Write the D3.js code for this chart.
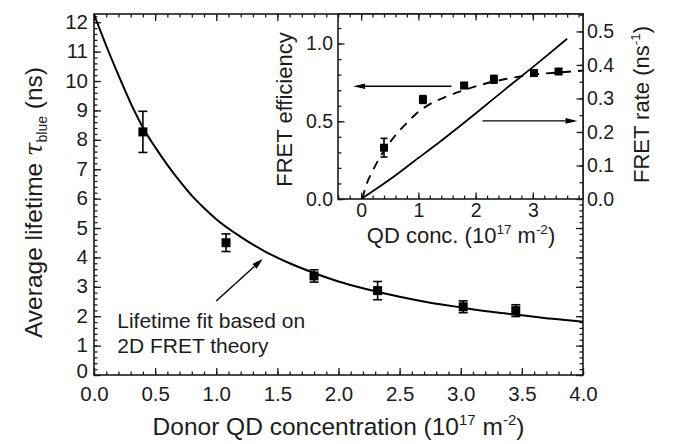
<!DOCTYPE html>
<html><head><meta charset="utf-8">
<script src="https://cdn.jsdelivr.net/npm/d3@7"></script>
<style>
body{margin:0;background:#fff}
text{font-family:"Liberation Sans",Arial,Helvetica,sans-serif;fill:#1c1c1c}
</style>
</head><body><svg id="c" width="675" height="444"></svg>
<script>
// ---------- data ----------
const concentration = [0.40, 1.08, 1.80, 2.32, 3.02, 3.45];
const lifetime      = [8.27, 4.50, 3.37, 2.87, 2.32, 2.19];
const lifetimeErr   = [0.70, 0.30, 0.21, 0.31, 0.20, 0.20];

const fitX        = [0, 0.1, 0.2, 0.3, 0.4, 0.5, 0.6, 0.7, 0.8, 0.9, 1.0, 1.2, 1.4, 1.6, 1.8, 2.0, 2.25, 2.5, 2.75, 3.0, 3.25, 3.5, 3.75, 4.0];
const fitLifetime = [12.27, 11.2, 10.2, 9.25, 8.42, 7.75, 7.15, 6.6, 6.1, 5.68, 5.3, 4.7, 4.2, 3.8, 3.47, 3.18, 2.9, 2.66, 2.46, 2.3, 2.15, 2.03, 1.91, 1.81];

const efficiency    = [0.33, 0.64, 0.73, 0.77, 0.81, 0.82];
const efficiencyErr = [0.06, 0.025, 0.012, 0.025, 0.012, 0.012];

const effFitX = [0.02, 0.1, 0.2, 0.3, 0.4, 0.6, 0.8, 1.0, 1.2, 1.5, 1.8, 2.1, 2.5, 3.0, 3.5, 3.88];
const effFit  = [0.0, 0.1, 0.18, 0.25, 0.31, 0.41, 0.49, 0.56, 0.61, 0.66, 0.70, 0.735, 0.77, 0.80, 0.815, 0.826];

const rateFitX = [0, 0.5, 0.92, 1.44, 2.0, 2.5, 3.14, 3.6];
const rateFit  = [0, 0.058, 0.112, 0.179, 0.255, 0.325, 0.413, 0.478];

const mainXTicks = [0, 0.5, 1.0, 1.5, 2.0, 2.5, 3.0, 3.5, 4.0];
const mainYTicks = [0, 1, 2, 3, 4, 5, 6, 7, 8, 9, 10, 11, 12];
const insetXTicks = [0, 1, 2, 3];
const insetYLTicks = [0, 0.5, 1.0];
const insetYRTicks = [0, 0.1, 0.2, 0.3, 0.4, 0.5];

const annotationLines = ["Lifetime fit based on", "2D FRET theory"];

// ---------- layout ----------
const M = {l: 94, r: 583, t: 14, b: 375};
const I = {l: 338, r: 583, t: 14, b: 199};
const svg = d3.select("#c");
const ink = "#1c1c1c";

const x = d3.scaleLinear().domain([0, 4]).range([M.l, M.r]);
const y = d3.scaleLinear().domain([0, 12.28]).range([M.b, M.t]);
const xi = d3.scaleLinear().domain([-0.404, 3.877]).range([I.l, I.r]);
const yl = d3.scaleLinear().domain([0, 1.19]).range([I.b, I.t]);
const yr = d3.scaleLinear().domain([0, 0.552]).range([I.b, I.t]);

const range = (a, b, s) => d3.range(Math.round((b - a) / s) + 1).map(i => +(a + i * s).toFixed(4));

function axisG(axis, tx, ty, fs) {
  const g = svg.append("g").attr("transform", `translate(${tx},${ty})`).call(axis);
  g.select(".domain").remove();
  g.selectAll("line").attr("stroke", ink).attr("stroke-width", 1.3);
  g.selectAll("text").attr("font-size", fs).attr("fill", ink)
    .style("font-family", '"Liberation Sans",Arial,sans-serif');
  return g;
}

// ---------- main plot ----------
const mainMinorX = range(0, 4, 0.1);
const mainMinorY = range(0, 12.2, 0.2);

axisG(d3.axisBottom(x).tickValues(mainMinorX).tickSize(-3.5).tickFormat(""), 0, M.b, 0);
axisG(d3.axisBottom(x).tickValues(mainXTicks).tickSize(-7).tickPadding(11.5).tickFormat(d3.format(".1f")), 0, M.b, 20.5);
axisG(d3.axisTop(x).tickValues(mainMinorX.filter(v => x(v) < I.l - 1)).tickSize(-3.5).tickFormat(""), 0, M.t, 0);
axisG(d3.axisTop(x).tickValues(mainXTicks.filter(v => x(v) < I.l - 1)).tickSize(-7).tickFormat(""), 0, M.t, 0);
axisG(d3.axisLeft(y).tickValues(mainMinorY).tickSize(-3.5).tickFormat(""), M.l, 0, 0);
const yAxisG = axisG(d3.axisLeft(y).tickValues(mainYTicks).tickSize(-7).tickPadding(6).tickFormat(d3.format("d")), M.l, 0, 20.5);
yAxisG.selectAll("text").attr("dy", d => d === 0 ? "0.1em" : "0.3em");
axisG(d3.axisRight(y).tickValues(mainMinorY.filter(v => y(v) > I.b + 1)).tickSize(-3.5).tickFormat(""), M.r, 0, 0);
axisG(d3.axisRight(y).tickValues(mainYTicks.filter(v => y(v) > I.b + 1)).tickSize(-7).tickFormat(""), M.r, 0, 0);

svg.append("rect").attr("x", M.l).attr("y", M.t).attr("width", M.r - M.l).attr("height", M.b - M.t)
  .attr("fill", "none").attr("stroke", ink).attr("stroke-width", 1.6);

svg.append("defs").append("clipPath").attr("id", "mclip").append("rect")
  .attr("x", M.l).attr("y", M.t).attr("width", M.r - M.l).attr("height", M.b - M.t);

const fitData = fitX.map((v, i) => [v, fitLifetime[i]]);
svg.append("path").datum(fitData).attr("clip-path", "url(#mclip)")
  .attr("d", d3.line().x(d => x(d[0])).y(d => y(d[1])).curve(d3.curveMonotoneX))
  .attr("fill", "none").attr("stroke", "#000").attr("stroke-width", 2);

const mainPts = concentration.map((c, i) => ({c, v: lifetime[i], e: lifetimeErr[i]}));
const mg = svg.append("g");
mainPts.forEach(p => {
  const cx = x(p.c);
  mg.append("line").attr("x1", cx).attr("x2", cx).attr("y1", y(p.v - p.e)).attr("y2", y(p.v + p.e))
    .attr("stroke", "#000").attr("stroke-width", 1.6);
  [p.v - p.e, p.v + p.e].forEach(v => mg.append("line").attr("x1", cx - 4.5).attr("x2", cx + 4.5)
    .attr("y1", y(v)).attr("y2", y(v)).attr("stroke", "#000").attr("stroke-width", 1.6));
  mg.append("rect").attr("x", cx - 4.5).attr("y", y(p.v) - 4.5).attr("width", 9).attr("height", 9).attr("fill", "#000");
});

// arrow helper
function arrow(x1, y1, x2, y2, len, half) {
  const a = Math.atan2(y2 - y1, x2 - x1);
  const bx = x2 - len * Math.cos(a), by = y2 - len * Math.sin(a);
  svg.append("line").attr("x1", x1).attr("y1", y1).attr("x2", bx).attr("y2", by)
    .attr("stroke", "#000").attr("stroke-width", 1.4);
  const px = -Math.sin(a) * half, py = Math.cos(a) * half;
  svg.append("path").attr("d", `M${x2},${y2}L${bx + px},${by + py}L${bx - px},${by - py}Z`).attr("fill", "#000");
}
// annotation arrow in main-plot data units
const mainArrow = {from: [1.0, 2.52], to: [1.38, 3.95]};
arrow(x(mainArrow.from[0]), y(mainArrow.from[1]), x(mainArrow.to[0]), y(mainArrow.to[1]), 11, 3.2);

const ann = svg.append("text").attr("x", x(0.19)).attr("y", y(1.61)).attr("font-size", 21);
annotationLines.forEach((t, i) => ann.append("tspan").attr("x", x(0.19)).attr("dy", i ? 25 : 0).text(t));

// axis titles (main)
const xt = svg.append("text").attr("x", (M.l + M.r) / 2).attr("y", 435).attr("text-anchor", "middle").attr("font-size", 24.5);
xt.append("tspan").text("Donor QD concentration (10");
xt.append("tspan").attr("font-size", 15).attr("dy", -10).text("17");
xt.append("tspan").attr("dy", 10).text(" m");
xt.append("tspan").attr("font-size", 15).attr("dy", -10).text("-2");
xt.append("tspan").attr("dy", 10).text(")");

const yt = svg.append("text").attr("transform", `translate(42,${(M.t + M.b) / 2 + 8}) rotate(-90)`)
  .attr("text-anchor", "middle").attr("font-size", 24.5);
yt.append("tspan").text("Average lifetime ");
yt.append("tspan").attr("font-style", "italic").attr("font-family", '"DejaVu Serif",serif').text("τ");
yt.append("tspan").attr("font-size", 14).attr("dy", 5).text("blue");
yt.append("tspan").attr("dy", -5).text(" (ns)");

// ---------- inset ----------
svg.append("rect").attr("x", I.l).attr("y", I.t).attr("width", I.r - I.l).attr("height", I.b - I.t)
  .attr("fill", "#fff");

const inMinorX = range(-0.4, 3.8, 0.2);
const inMinorYL = range(0, 1.1, 0.1);
const inMinorYR = range(0, 0.55, 0.05);

axisG(d3.axisBottom(xi).tickValues(inMinorX).tickSize(-3.5).tickFormat(""), 0, I.b, 0);
axisG(d3.axisBottom(xi).tickValues(insetXTicks).tickSize(-6.5).tickPadding(4).tickFormat(d3.format("d")), 0, I.b, 19.5);
axisG(d3.axisTop(xi).tickValues(inMinorX).tickSize(-3.5).tickFormat(""), 0, I.t, 0);
axisG(d3.axisTop(xi).tickValues(insetXTicks).tickSize(-6.5).tickFormat(""), 0, I.t, 0);
axisG(d3.axisLeft(yl).tickValues(inMinorYL).tickSize(-3.5).tickFormat(""), I.l, 0, 0);
axisG(d3.axisLeft(yl).tickValues(insetYLTicks).tickSize(-6.5).tickPadding(5).tickFormat(d3.format(".1f")), I.l, 0, 19.5);
axisG(d3.axisRight(yr).tickValues(inMinorYR).tickSize(-3.5).tickFormat(""), I.r, 0, 0);
axisG(d3.axisRight(yr).tickValues(insetYRTicks).tickSize(-6.5).tickPadding(4).tickFormat(d3.format(".1f")), I.r, 0, 19.5);

svg.append("rect").attr("x", I.l).attr("y", I.t).attr("width", I.r - I.l).attr("height", I.b - I.t)
  .attr("fill", "none").attr("stroke", ink).attr("stroke-width", 1.6);

svg.select("defs").append("clipPath").attr("id", "iclip").append("rect")
  .attr("x", I.l).attr("y", I.t).attr("width", I.r - I.l).attr("height", I.b - I.t);

svg.append("path").datum(rateFitX.map((v, i) => [v, rateFit[i]])).attr("clip-path", "url(#iclip)")
  .attr("d", d3.line().x(d => xi(d[0])).y(d => yr(d[1])).curve(d3.curveMonotoneX))
  .attr("fill", "none").attr("stroke", "#000").attr("stroke-width", 1.8);

svg.append("path").datum(effFitX.map((v, i) => [v, effFit[i]])).attr("clip-path", "url(#iclip)")
  .attr("d", d3.line().x(d => xi(d[0])).y(d => yl(d[1])).curve(d3.curveMonotoneX))
  .attr("fill", "none").attr("stroke", "#000").attr("stroke-width", 1.9).attr("stroke-dasharray", "9,7");

const ig = svg.append("g");
concentration.forEach((c, i) => {
  const cx = xi(c), v = efficiency[i], e = efficiencyErr[i];
  ig.append("line").attr("x1", cx).attr("x2", cx).attr("y1", yl(v - e)).attr("y2", yl(v + e))
    .attr("stroke", "#000").attr("stroke-width", 1.6);
  [v - e, v + e].forEach(w => ig.append("line").attr("x1", cx - 3.5).attr("x2", cx + 3.5)
    .attr("y1", yl(w)).attr("y2", yl(w)).attr("stroke", "#000").attr("stroke-width", 1.6));
  ig.append("rect").attr("x", cx - 4).attr("y", yl(v) - 4).attr("width", 8).attr("height", 8).attr("fill", "#000");
});

// inset arrows (data units)
const effArrow = {from: [1.58, 0.725], to: [-0.14, 0.725]};
const rateArrow = {from: [2.12, 0.233], to: [3.78, 0.233]};
arrow(xi(effArrow.from[0]), yl(effArrow.from[1]), xi(effArrow.to[0]), yl(effArrow.to[1]), 12, 2.8);
arrow(xi(rateArrow.from[0]), yr(rateArrow.from[1]), xi(rateArrow.to[0]), yr(rateArrow.to[1]), 12, 2.8);

// inset titles
const ixt = svg.append("text").attr("x", 461).attr("y", 243).attr("text-anchor", "middle").attr("font-size", 22);
ixt.append("tspan").text("QD conc. (10");
ixt.append("tspan").attr("font-size", 13.5).attr("dy", -9).text("17");
ixt.append("tspan").attr("dy", 9).text(" m");
ixt.append("tspan").attr("font-size", 13.5).attr("dy", -9).text("-2");
ixt.append("tspan").attr("dy", 9).text(")");

svg.append("text").attr("transform", `translate(292,${(I.t + I.b) / 2 + 3}) rotate(-90)`)
  .attr("text-anchor", "middle").attr("font-size", 22).text("FRET efficiency");

const iyr = svg.append("text").attr("transform", `translate(649,${(I.t + I.b) / 2 - 2}) rotate(-90)`)
  .attr("text-anchor", "middle").attr("font-size", 22);
iyr.append("tspan").text("FRET rate (ns");
iyr.append("tspan").attr("font-size", 13.5).attr("dy", -9).text("-1");
iyr.append("tspan").attr("dy", 9).text(")");
</script></body></html>
